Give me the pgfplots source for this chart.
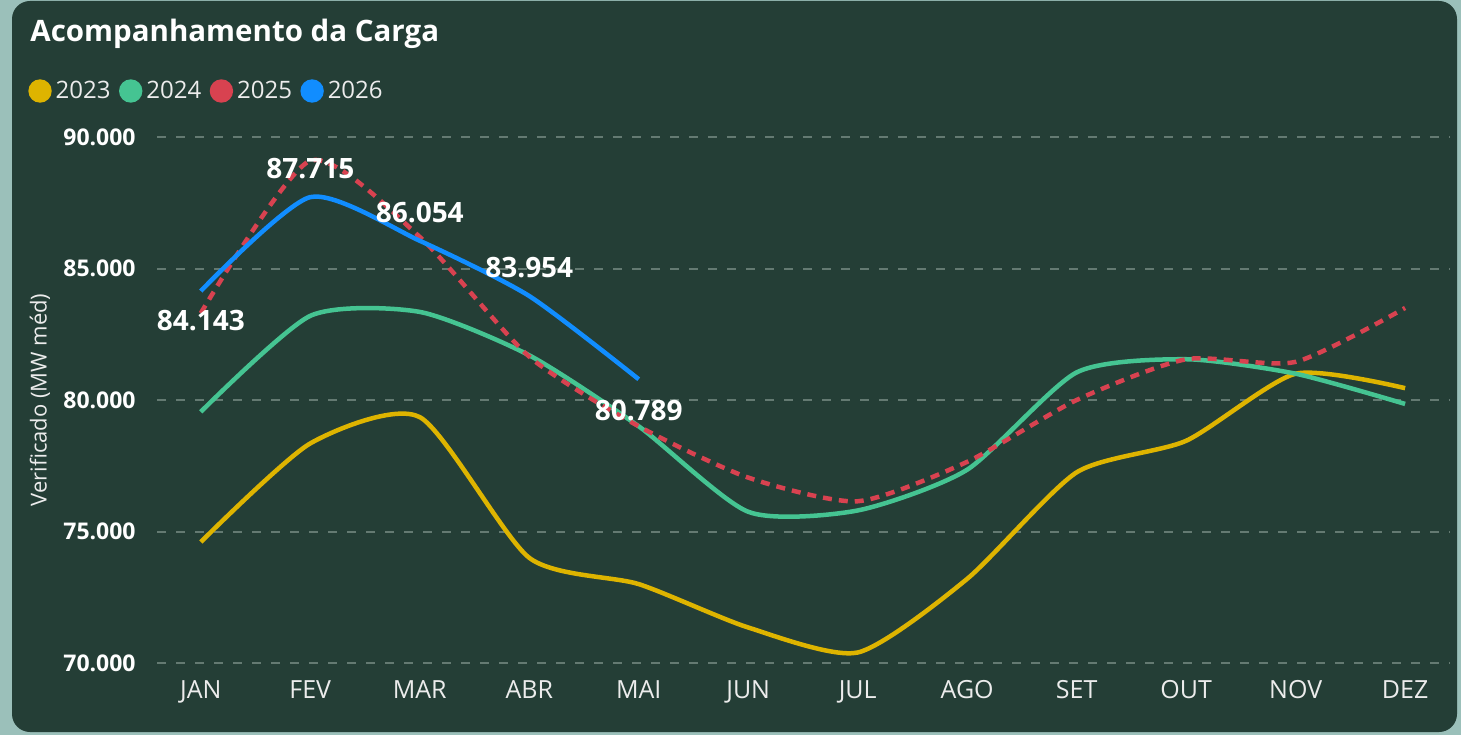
\documentclass[border=0pt]{standalone}
\usepackage{pgfplots}
\pgfplotsset{compat=1.18}
\usepackage{pgfplotstable}
\usepackage{fontspec}
\setmainfont{Open Sans}
\definecolor{outerbg}{RGB}{155,192,186}
\definecolor{card}{RGB}{36,62,54}
\definecolor{gridc}{RGB}{100,122,114}
\definecolor{lbl}{RGB}{236,236,236}
\definecolor{c23}{RGB}{222,180,0}
\definecolor{c24}{RGB}{69,196,146}
\definecolor{c25}{RGB}{216,66,80}
\definecolor{c26}{RGB}{17,141,255}

\pgfplotstableread{
x y23 y24 y25
0 74.6 79.55 83.3
1 78.35 83.2 89.1
2 79.35 83.35 86.2
3 74.0 81.7 81.65
4 73.0 79.0 79.0
5 71.35 75.75 77.05
6 70.4 75.8 76.15
7 73.2 77.35 77.65
8 77.25 81.05 80.0
9 78.45 81.55 81.55
10 81.0 81.0 81.45
11 80.45 79.85 83.5
}\dataA

\pgfplotstableread{
x y lab dy
0 84.143 84.143 -15
1 87.715 87.715 14.5
2 86.054 86.054 14
3 83.954 83.954 14.25
4 80.789 80.789 -15.5
}\dataB

\begin{document}
\begin{tikzpicture}
\fill[outerbg] (0pt,0pt) rectangle (730.5pt,367.5pt);
\fill[card, rounded corners=9pt] (6pt,1.5pt) rectangle (728.5pt,367pt);
\node[anchor=west, font=\bfseries\fontsize{14.75}{17}\selectfont, text=white, inner sep=0pt] at (15pt,350.5pt) {Acompanhamento da Carga};
\begin{axis}[
  at={(78.5pt,36pt)}, anchor=south west,
  scale only axis, width=646.5pt, height=263pt,
  xmin=-0.4, xmax=11.41, ymin=70, ymax=90,
  axis line style={draw=none},
  tick style={draw=none},
  major tick length=0pt,
  xtick={0,1,2,3,4,5,6,7,8,9,10,11},
  xticklabels={JAN,FEV,MAR,ABR,MAI,JUN,JUL,AGO,SET,OUT,NOV,DEZ},
  ytick={70,75,80,85,90},
  yticklabels={70.000,75.000,80.000,85.000,90.000},
  ymajorgrids,
  grid style={gridc, line width=1pt, dash pattern=on 4.5pt off 5pt},
  xticklabel style={anchor=base, inner sep=0pt, yshift=-17.5pt, text=lbl, font=\fontsize{12.5}{14}\selectfont},
  yticklabel style={anchor=east, inner sep=0pt, xshift=-10.5pt, text=white, font=\bfseries\fontsize{11.5}{13}\selectfont},
  ylabel={Verificado (MW méd)},
  ylabel style={at={(axis description cs:0,0.5)}, anchor=center, yshift=58.5pt, text=lbl, font=\fontsize{11}{13}\selectfont},
  legend columns=4,
  legend style={at={(axis description cs:0,1)}, anchor=west, xshift=-64.5pt, yshift=23pt,
     draw=none, fill=none, text=lbl, font=\fontsize{12}{14}\selectfont, inner sep=0pt,
     /tikz/every even column/.append style={column sep=2.25pt}},
  legend image code/.code={\fill[#1,solid] (4.7pt,0pt) circle (4.7pt);},
  clip=false,
]
\addplot[c23, line width=2.25pt, smooth, tension=0.4] table[x=x, y=y23] {\dataA};
\addlegendentry{2023}
\addplot[c24, line width=2.25pt, smooth, tension=0.4] table[x=x, y=y24] {\dataA};
\addlegendentry{2024}
\addplot[c25, line width=2.25pt, smooth, tension=0.4, dash pattern=on 4.5pt off 3.5pt] table[x=x, y=y25] {\dataA};
\addlegendentry{2025}
\addplot[c26, line width=2.25pt, smooth, tension=0.4,
  point meta=explicit symbolic,
  nodes near coords,
  visualization depends on={\thisrow{dy}\as\dy},
  nodes near coords style={anchor=center, yshift=\dy*1pt, text=white, font=\bfseries\fontsize{14}{16}\selectfont, inner sep=0pt}
] table[x=x, y=y, meta=lab] {\dataB};
\addlegendentry{2026}
\end{axis}
\end{tikzpicture}
\end{document}
